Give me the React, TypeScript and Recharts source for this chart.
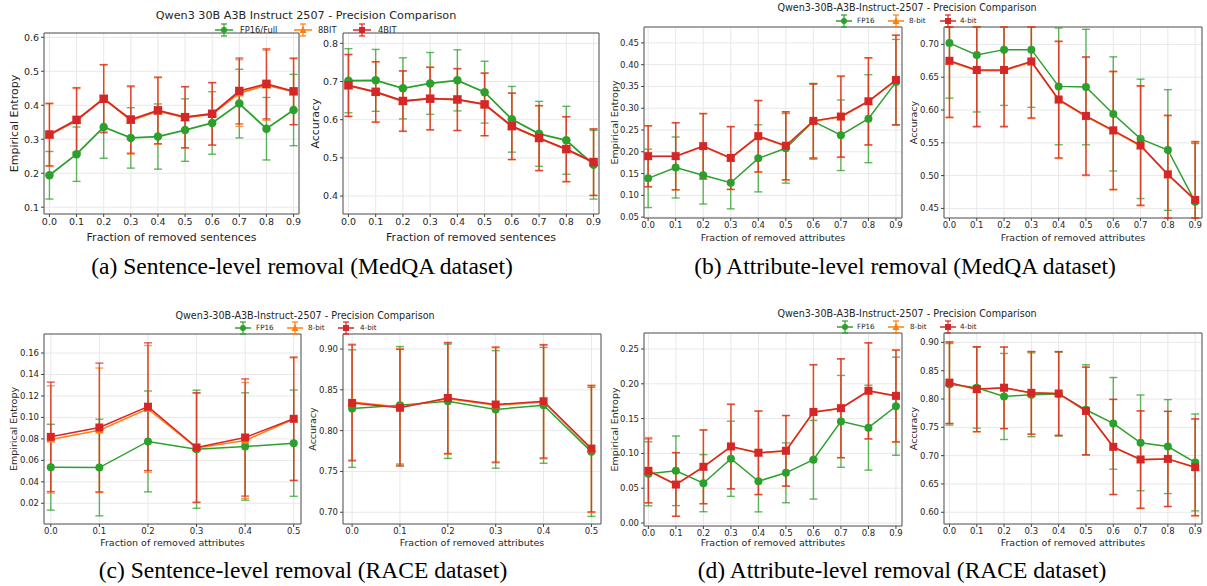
import React from 'react';
import { LineChart, Line, XAxis, YAxis, CartesianGrid, ErrorBar, ReferenceArea } from 'recharts';

const GREEN = '#2ca02c';
const ORANGE = '#ff7f0e';
const RED = '#d62728';
const FONT = "'DejaVu Sans', Verdana, sans-serif";
const SERIF = "'Liberation Serif', 'Times New Roman', serif";

// categories (fraction removed)
const fracTen = [0, 0.1, 0.2, 0.3, 0.4, 0.5, 0.6, 0.7, 0.8, 0.9];
const fracSix = [0, 0.1, 0.2, 0.3, 0.4, 0.5];

// y tick labels
const ticksAEnt = [0.1, 0.2, 0.3, 0.4, 0.5, 0.6];
const ticksAAcc = [0.4, 0.5, 0.6, 0.7, 0.8];
const ticksBEnt = [0.05, 0.1, 0.15, 0.2, 0.25, 0.3, 0.35, 0.4, 0.45];
const ticksBAcc = [0.45, 0.5, 0.55, 0.6, 0.65, 0.7];
const ticksCEnt = [0.02, 0.04, 0.06, 0.08, 0.1, 0.12, 0.14, 0.16];
const ticksCAcc = [0.7, 0.75, 0.8, 0.85, 0.9];
const ticksDEnt = [0, 0.05, 0.1, 0.15, 0.2, 0.25];
const ticksDAcc = [0.6, 0.65, 0.7, 0.75, 0.8, 0.85, 0.9];

// (a) MedQA sentence-level: entropy
const aEntFp = [0.194, 0.256, 0.336, 0.304, 0.308, 0.327, 0.348, 0.405, 0.331, 0.386];
const aEntFpErr = [0.07, 0.08, 0.092, 0.089, 0.096, 0.092, 0.092, 0.101, 0.092, 0.105];
const aEnt8 = [0.312, 0.355, 0.421, 0.355, 0.383, 0.364, 0.374, 0.436, 0.459, 0.44];
const aEnt8Err = [0.092, 0.094, 0.099, 0.099, 0.098, 0.09, 0.092, 0.098, 0.103, 0.097];
const aEnt4 = [0.314, 0.357, 0.419, 0.358, 0.385, 0.365, 0.375, 0.442, 0.463, 0.441];
const aEnt4Err = [0.092, 0.095, 0.1, 0.099, 0.098, 0.09, 0.092, 0.097, 0.103, 0.098];
// (a) accuracy
const aAccFp = [0.702, 0.703, 0.682, 0.695, 0.703, 0.672, 0.601, 0.563, 0.546, 0.482];
const aAccFpErr = [0.084, 0.081, 0.08, 0.081, 0.08, 0.081, 0.086, 0.085, 0.089, 0.09];
const aAcc8 = [0.689, 0.672, 0.648, 0.656, 0.652, 0.64, 0.582, 0.551, 0.522, 0.488];
const aAcc8Err = [0.081, 0.079, 0.079, 0.082, 0.081, 0.082, 0.087, 0.085, 0.085, 0.087];
const aAcc4 = [0.69, 0.673, 0.649, 0.655, 0.653, 0.64, 0.583, 0.552, 0.523, 0.489];
const aAcc4Err = [0.081, 0.079, 0.079, 0.082, 0.081, 0.082, 0.087, 0.085, 0.085, 0.087];

// (b) MedQA attribute-level: entropy
const bEntFp = [0.139, 0.164, 0.146, 0.129, 0.185, 0.208, 0.27, 0.238, 0.276, 0.36];
const bEntFpErr = [0.067, 0.07, 0.066, 0.06, 0.077, 0.08, 0.087, 0.081, 0.101, 0.098];
const bEnt8 = [0.189, 0.189, 0.212, 0.185, 0.235, 0.213, 0.27, 0.28, 0.315, 0.364];
const bEnt8Err = [0.07, 0.077, 0.075, 0.072, 0.082, 0.078, 0.085, 0.093, 0.1, 0.103];
const bEnt4 = [0.19, 0.19, 0.213, 0.186, 0.236, 0.214, 0.271, 0.281, 0.316, 0.365];
const bEnt4Err = [0.07, 0.077, 0.075, 0.072, 0.082, 0.078, 0.085, 0.093, 0.1, 0.103];
// (b) accuracy
const bAccFp = [0.702, 0.684, 0.692, 0.692, 0.636, 0.635, 0.594, 0.556, 0.539, 0.46];
const bAccFpErr = [0.084, 0.087, 0.085, 0.088, 0.089, 0.088, 0.087, 0.091, 0.092, 0.089];
const bAcc8 = [0.674, 0.66, 0.66, 0.673, 0.615, 0.59, 0.568, 0.545, 0.501, 0.462];
const bAcc8Err = [0.086, 0.086, 0.086, 0.086, 0.089, 0.09, 0.09, 0.091, 0.09, 0.089];
const bAcc4 = [0.675, 0.661, 0.661, 0.674, 0.616, 0.591, 0.569, 0.546, 0.502, 0.463];
const bAcc4Err = [0.086, 0.086, 0.086, 0.086, 0.089, 0.09, 0.09, 0.091, 0.09, 0.089];

// (c) RACE sentence-level: entropy
const cEntFp = [0.0536, 0.0533, 0.0776, 0.0704, 0.0729, 0.076];
const cEntFpErr = [0.04, 0.045, 0.047, 0.055, 0.05, 0.0495];
const cEnt8 = [0.0795, 0.088, 0.108, 0.0715, 0.0785, 0.0985];
const cEnt8Err = [0.05, 0.058, 0.059, 0.051, 0.054, 0.057];
const cEnt4 = [0.0819, 0.0906, 0.11, 0.072, 0.0813, 0.0987];
const cEnt4Err = [0.051, 0.06, 0.0595, 0.051, 0.0546, 0.0575];
// (c) accuracy
const cAccFp = [0.827, 0.831, 0.836, 0.826, 0.831, 0.774];
const cAccFpErr = [0.072, 0.072, 0.07, 0.072, 0.071, 0.079];
const cAcc8 = [0.835, 0.829, 0.839, 0.831, 0.835, 0.777];
const cAcc8Err = [0.071, 0.0715, 0.068, 0.0705, 0.0695, 0.0775];
const cAcc4 = [0.834, 0.828, 0.84, 0.832, 0.836, 0.778];
const cAcc4Err = [0.071, 0.0715, 0.068, 0.0705, 0.0695, 0.0775];

// (d) RACE attribute-level: entropy
const dEntFp = [0.0707, 0.075, 0.0572, 0.0923, 0.06, 0.0721, 0.0909, 0.146, 0.137, 0.1678];
const dEntFpErr = [0.046, 0.05, 0.041, 0.054, 0.044, 0.043, 0.0565, 0.066, 0.061, 0.0705];
const dEnt8 = [0.076, 0.0555, 0.0805, 0.1095, 0.1005, 0.1035, 0.159, 0.1645, 0.1895, 0.182];
const dEnt8Err = [0.047, 0.0457, 0.053, 0.0608, 0.06, 0.0507, 0.068, 0.071, 0.069, 0.066];
const dEnt4 = [0.075, 0.0553, 0.0808, 0.11, 0.101, 0.1038, 0.1596, 0.165, 0.19, 0.1827];
const dEnt4Err = [0.046, 0.0457, 0.053, 0.0608, 0.06, 0.0507, 0.068, 0.071, 0.069, 0.066];
// (d) accuracy
const dAccFp = [0.826, 0.82, 0.8045, 0.8075, 0.8087, 0.781, 0.757, 0.7226, 0.716, 0.688];
const dAccFpErr = [0.072, 0.0715, 0.076, 0.074, 0.074, 0.0795, 0.081, 0.0845, 0.083, 0.0855];
const dAcc8 = [0.8285, 0.817, 0.8195, 0.8105, 0.8095, 0.7785, 0.715, 0.6928, 0.694, 0.679];
const dAcc8Err = [0.072, 0.075, 0.072, 0.073, 0.074, 0.0775, 0.084, 0.086, 0.084, 0.0855];
const dAcc4 = [0.829, 0.8175, 0.82, 0.811, 0.8098, 0.779, 0.7156, 0.6932, 0.6943, 0.6796];
const dAcc4Err = [0.072, 0.075, 0.072, 0.073, 0.074, 0.0775, 0.084, 0.086, 0.084, 0.0855];

type Ser = { vals: number[]; errs: number[]; color: string; marker: 'circle' | 'triangle' | 'square' };
type Cfg = {
  xs: number[];
  series: Ser[];
  left: number; top: number; w: number; h: number; yW: number; xH: number;
  xDomain: [number, number]; yDomain: [number, number]; yTicks: number[]; yDec: number;
  xLabel: string; yLabel: string; yLabelOff: number;
  tickFs: number; labelFs: number; lw: number; ms: number;
};

function makeDot(marker: string, color: string, size: number) {
  return (p: any) => {
    const { cx, cy, index } = p;
    if (cx == null || cy == null || isNaN(cx) || isNaN(cy)) return <g key={`n${index}`} />;
    if (marker === 'circle') return <circle key={`c${index}`} cx={cx} cy={cy} r={size / 2} fill={color} />;
    if (marker === 'square')
      return <rect key={`s${index}`} x={cx - size / 2} y={cy - size / 2} width={size} height={size} fill={color} />;
    const h = size;
    return (
      <polygon
        key={`t${index}`}
        points={`${cx},${cy - h * 0.6} ${cx - h * 0.55},${cy + h * 0.4} ${cx + h * 0.55},${cy + h * 0.4}`}
        fill={color}
      />
    );
  };
}

function Panel({ c }: { c: Cfg }) {
  const [yMin, yMax] = c.yDomain;
  const rows = c.xs.map((x, i) => {
    const r: any = { x };
    c.series.forEach((s, k) => {
      const v = s.vals[i];
      const e = s.errs[i];
      r['v' + k] = v;
      // error bars are clipped to the axes box, as in the reference
      r['e' + k] = [Math.min(e, v - yMin), Math.min(e, yMax - v)];
    });
    return r;
  });
  const mt = 8;
  const mr = 8;
  const mb = 6;
  const textStyle = { fill: '#262626', fontFamily: FONT };
  return (
    <div style={{ position: 'absolute', left: c.left - c.yW, top: c.top - mt }}>
      <LineChart
        width={c.yW + c.w + mr}
        height={mt + c.h + c.xH + mb}
        data={rows}
        margin={{ top: mt, right: mr, left: 0, bottom: mb }}
      >
        <CartesianGrid stroke="#e8e8e8" strokeWidth={1} />
        <XAxis
          type="number"
          dataKey="x"
          domain={c.xDomain}
          ticks={c.xs}
          allowDataOverflow
          interval={0}
          tickFormatter={(v: number) => v.toFixed(1)}
          height={c.xH}
          tickSize={3}
          tickMargin={1}
          axisLine={false}
          tickLine={{ stroke: '#444' }}
          tick={{ fontSize: c.tickFs, ...textStyle }}
          label={{ value: c.xLabel, position: 'insideBottom', offset: 0, style: { fontSize: c.labelFs, ...textStyle } }}
        />
        <YAxis
          type="number"
          domain={c.yDomain}
          ticks={c.yTicks}
          allowDataOverflow
          interval={0}
          tickFormatter={(v: number) => v.toFixed(c.yDec)}
          width={c.yW}
          tickSize={3}
          tickMargin={2}
          axisLine={false}
          tickLine={{ stroke: '#444' }}
          tick={{ fontSize: c.tickFs, ...textStyle }}
          label={{
            value: c.yLabel,
            angle: -90,
            position: 'insideLeft',
            offset: c.yLabelOff,
            style: { fontSize: c.labelFs, textAnchor: 'middle', ...textStyle },
          }}
        />
        {c.series.map((s, k) => (
          <Line
            key={k}
            type="linear"
            dataKey={'v' + k}
            stroke={s.color}
            strokeWidth={c.lw}
            dot={makeDot(s.marker, s.color, c.ms)}
            activeDot={false}
            isAnimationActive={false}
          >
            <ErrorBar
              dataKey={'e' + k}
              width={4}
              stroke={s.color}
              strokeWidth={1.4}
              strokeOpacity={0.75}
              direction="y"
              isAnimationActive={false}
            />
          </Line>
        ))}
        <ReferenceArea
          x1={c.xDomain[0]}
          x2={c.xDomain[1]}
          y1={c.yDomain[0]}
          y2={c.yDomain[1]}
          fill="none"
          fillOpacity={0}
          stroke="#555"
          strokeWidth={1}
          ifOverflow="visible"
        />
      </LineChart>
    </div>
  );
}

function LegendIcon({ color, marker, w }: { color: string; marker: string; w: number }) {
  const m = w / 2;
  return (
    <svg width={w} height={14} style={{ display: 'block' }}>
      <line x1={0} y1={7} x2={w} y2={7} stroke={color} strokeWidth={1.5} />
      <line x1={m} y1={1} x2={m} y2={13} stroke={color} strokeWidth={1.2} />
      <line x1={m - 3} y1={1} x2={m + 3} y2={1} stroke={color} strokeWidth={1.2} />
      <line x1={m - 3} y1={13} x2={m + 3} y2={13} stroke={color} strokeWidth={1.2} />
      {marker === 'circle' && <circle cx={m} cy={7} r={3} fill={color} />}
      {marker === 'square' && <rect x={m - 3} y={4} width={6} height={6} fill={color} />}
      {marker === 'triangle' && <polygon points={`${m},3 ${m - 3.5},10 ${m + 3.5},10`} fill={color} />}
    </svg>
  );
}

type LegItem = { label: string; color: string; marker: string; iconX: number; textX: number };

function Legend({ items, y, fs, iconW }: { items: LegItem[]; y: number; fs: number; iconW: number }) {
  return (
    <>
      {items.map((it, i) => (
        <React.Fragment key={i}>
          <div style={{ position: 'absolute', left: it.iconX, top: y - 7 }}>
            <LegendIcon color={it.color} marker={it.marker} w={iconW} />
          </div>
          <div
            style={{
              position: 'absolute',
              left: it.textX,
              top: y,
              transform: 'translateY(-50%)',
              fontFamily: FONT,
              fontSize: fs,
              lineHeight: 1,
              color: '#262626',
              whiteSpace: 'nowrap',
            }}
          >
            {it.label}
          </div>
        </React.Fragment>
      ))}
    </>
  );
}

function CText({ x, y, fs, family, children }: { x: number; y: number; fs: number; family: string; children: any }) {
  return (
    <div
      style={{
        position: 'absolute',
        left: x,
        top: y,
        transform: 'translate(-50%, -50%)',
        fontFamily: family,
        fontSize: fs,
        lineHeight: 1,
        color: family === SERIF ? '#000' : '#262626',
        whiteSpace: 'nowrap',
      }}
    >
      {children}
    </div>
  );
}

const S = (vals: number[], errs: number[], color: string, marker: 'circle' | 'triangle' | 'square'): Ser => ({
  vals,
  errs,
  color,
  marker,
});

const small = { tickFs: 8.5, labelFs: 9.5, lw: 1.5, ms: 8 };
const big = { tickFs: 9.5, labelFs: 11, lw: 1.8, ms: 8.5 };

const panels: Cfg[] = [
  {
    xs: fracTen,
    series: [S(aEntFp, aEntFpErr, GREEN, 'circle'), S(aEnt8, aEnt8Err, ORANGE, 'triangle'), S(aEnt4, aEnt4Err, RED, 'square')],
    left: 44, top: 33, w: 255, h: 181, yW: 44, xH: 27,
    xDomain: [-0.02, 0.92], yDomain: [0.08, 0.6127], yTicks: ticksAEnt, yDec: 1,
    xLabel: 'Fraction of removed sentences', yLabel: 'Empirical Entropy', yLabelOff: 14, ...big,
  },
  {
    xs: fracTen,
    series: [S(aAccFp, aAccFpErr, GREEN, 'circle'), S(aAcc8, aAcc8Err, ORANGE, 'triangle'), S(aAcc4, aAcc4Err, RED, 'square')],
    left: 343, top: 33, w: 256, h: 181, yW: 43, xH: 27,
    xDomain: [-0.02, 0.92], yDomain: [0.353, 0.827], yTicks: ticksAAcc, yDec: 1,
    xLabel: 'Fraction of removed sentences', yLabel: 'Accuracy', yLabelOff: 15, ...big,
  },
  {
    xs: fracTen,
    series: [S(bEntFp, bEntFpErr, GREEN, 'circle'), S(bEnt8, bEnt8Err, ORANGE, 'triangle'), S(bEnt4, bEnt4Err, RED, 'square')],
    left: 644, top: 27, w: 258, h: 191, yW: 39, xH: 23,
    xDomain: [-0.015, 0.922], yDomain: [0.048, 0.4865], yTicks: ticksBEnt, yDec: 2,
    xLabel: 'Fraction of removed attributes', yLabel: 'Empirical Entropy', yLabelOff: 10, ...small,
  },
  {
    xs: fracTen,
    series: [S(bAccFp, bAccFpErr, GREEN, 'circle'), S(bAcc8, bAcc8Err, ORANGE, 'triangle'), S(bAcc4, bAcc4Err, RED, 'square')],
    left: 944, top: 27, w: 258, h: 191, yW: 39, xH: 23,
    xDomain: [-0.02, 0.925], yDomain: [0.4354, 0.7265], yTicks: ticksBAcc, yDec: 2,
    xLabel: 'Fraction of removed attributes', yLabel: 'Accuracy', yLabelOff: 9, ...small,
  },
  {
    xs: fracSix,
    series: [S(cEntFp, cEntFpErr, GREEN, 'circle'), S(cEnt8, cEnt8Err, ORANGE, 'triangle'), S(cEnt4, cEnt4Err, RED, 'square')],
    left: 44, top: 334, w: 257, h: 190, yW: 44, xH: 22,
    xDomain: [-0.014, 0.515], yDomain: [0.0007, 0.1777], yTicks: ticksCEnt, yDec: 2,
    xLabel: 'Fraction of removed attributes', yLabel: 'Empirical Entropy', yLabelOff: 14, ...small,
  },
  {
    xs: fracSix,
    series: [S(cAccFp, cAccFpErr, GREEN, 'circle'), S(cAcc8, cAcc8Err, ORANGE, 'triangle'), S(cAcc4, cAcc4Err, RED, 'square')],
    left: 343, top: 334, w: 258, h: 190, yW: 43, xH: 22,
    xDomain: [-0.019, 0.52], yDomain: [0.6856, 0.9184], yTicks: ticksCAcc, yDec: 2,
    xLabel: 'Fraction of removed attributes', yLabel: 'Accuracy', yLabelOff: 12.5, ...small,
  },
  {
    xs: fracTen,
    series: [S(dEntFp, dEntFpErr, GREEN, 'circle'), S(dEnt8, dEnt8Err, ORANGE, 'triangle'), S(dEnt4, dEnt4Err, RED, 'square')],
    left: 644, top: 333, w: 258, h: 193, yW: 39, xH: 20,
    xDomain: [-0.016, 0.922], yDomain: [-0.0043, 0.273], yTicks: ticksDEnt, yDec: 2,
    xLabel: 'Fraction of removed attributes', yLabel: 'Empirical Entropy', yLabelOff: 10, ...small,
  },
  {
    xs: fracTen,
    series: [S(dAccFp, dAccFpErr, GREEN, 'circle'), S(dAcc8, dAcc8Err, ORANGE, 'triangle'), S(dAcc4, dAcc4Err, RED, 'square')],
    left: 944, top: 333, w: 258, h: 191, yW: 39, xH: 22,
    xDomain: [-0.02, 0.925], yDomain: [0.5793, 0.9166], yTicks: ticksDAcc, yDec: 2,
    xLabel: 'Fraction of removed attributes', yLabel: 'Accuracy', yLabelOff: 9, ...small,
  },
];

const titleA = 'Qwen3 30B A3B Instruct 2507 - Precision Comparison';
const titleB = 'Qwen3-30B-A3B-Instruct-2507 - Precision Comparison';
const legNamesA = ['FP16/Full', '8BIT', '4BIT'];
const legNamesB = ['FP16', '8-bit', '4-bit'];
const legColors = [GREEN, ORANGE, RED];
const legMarkers = ['circle', 'triangle', 'square'];

const mkLeg = (names: string[], iconXs: number[], textXs: number[]): LegItem[] =>
  names.map((n, i) => ({ label: n, color: legColors[i], marker: legMarkers[i], iconX: iconXs[i], textX: textXs[i] }));

export default function App() {
  return (
    <div
      style={{
        position: 'absolute',
        left: 0,
        top: 0,
        width: 1207,
        height: 586,
        background: '#fff',
        overflow: 'hidden',
      }}
    >
      {panels.map((p, i) => (
        <Panel key={i} c={p} />
      ))}

      <CText x={306} y={16} fs={11.2} family={FONT}>{titleA}</CText>
      <CText x={907} y={7.5} fs={9.6} family={FONT}>{titleB}</CText>
      <CText x={305} y={316} fs={9.6} family={FONT}>{titleB}</CText>
      <CText x={907} y={314} fs={9.6} family={FONT}>{titleB}</CText>

      <Legend items={mkLeg(legNamesA, [215, 294, 353], [240, 318, 378])} y={29.5} fs={8.3} iconW={18} />
      <Legend items={mkLeg(legNamesB, [836, 888, 940], [857, 909, 960])} y={21} fs={7.2} iconW={16} />
      <Legend items={mkLeg(legNamesB, [235, 287, 338], [256, 308, 360])} y={328} fs={7.2} iconW={16} />
      <Legend items={mkLeg(legNamesB, [837, 888, 940], [857, 910, 960])} y={327} fs={7.2} iconW={16} />

      <CText x={302} y={267} fs={23.5} family={SERIF}>(a) Sentence-level removal (MedQA dataset)</CText>
      <CText x={905} y={267} fs={23.5} family={SERIF}>(b) Attribute-level removal (MedQA dataset)</CText>
      <CText x={303} y={571} fs={23.5} family={SERIF}>(c) Sentence-level removal (RACE dataset)</CText>
      <CText x={902} y={571} fs={23.5} family={SERIF}>(d) Attribute-level removal (RACE dataset)</CText>
    </div>
  );
}
